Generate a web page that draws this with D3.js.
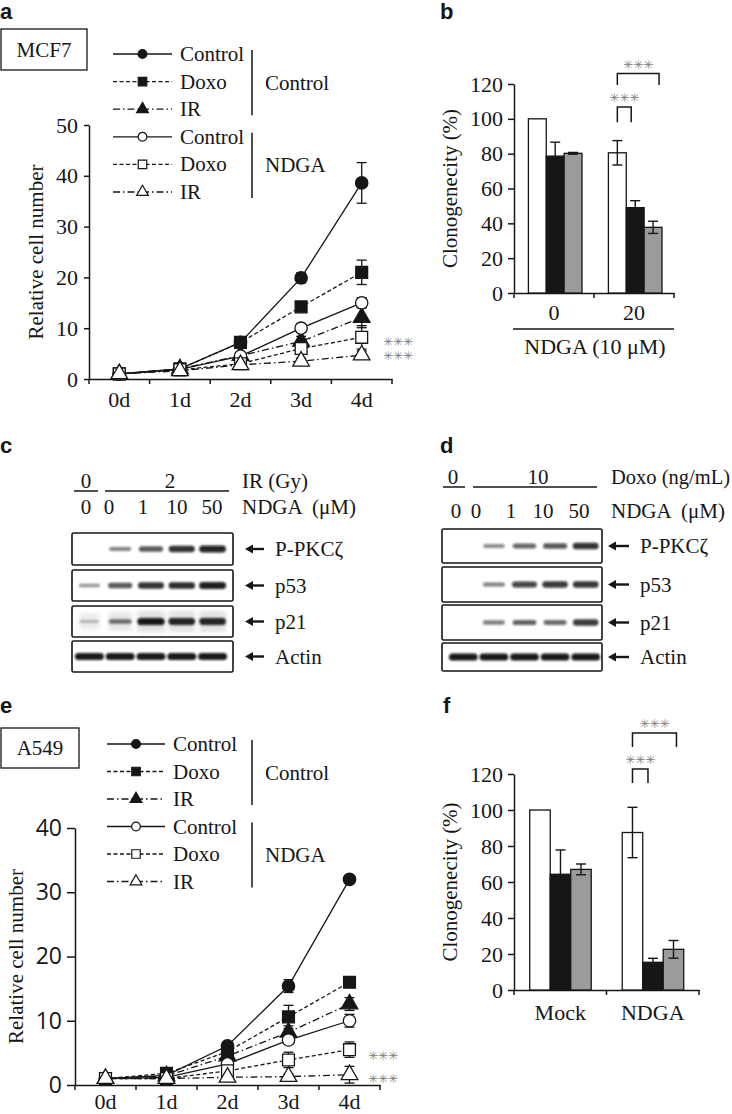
<!DOCTYPE html>
<html><head><meta charset="utf-8">
<script src="https://cdn.jsdelivr.net/npm/d3@7"></script>
<style>
body{margin:0;background:#fff;}
svg{display:block;}
</style></head><body>
<svg id="fig" width="732" height="1114"></svg>
<script>
// ---------------- data ----------------
const days = ["0d","1d","2d","3d","4d"];
const legendNames = ["Control","Doxo","IR","Control","Doxo","IR"];
const legendGroups = ["Control","NDGA"];

const mcf7Means = [
  [1, 2.0, 7.2, 19.9, 38.6],
  [1, 2.0, 7.2, 14.2, 21.0],
  [1, 2.0, 4.6, 7.4, 12.1],
  [1, 1.9, 4.5, 10.0, 15.0],
  [1, 1.8, 3.0, 6.0, 8.2],
  [1, 1.6, 2.8, 3.5, 4.7]
];
const mcf7Err = [
  [0.2, 0.3, 0.6, 1.0, 4.0],
  [0.2, 0.3, 0.5, 0.6, 2.4],
  [0.2, 0.3, 0.5, 1.0, 2.0],
  [0.2, 0.3, 0.5, 0.8, 1.0],
  [0.2, 0.3, 0.5, 0.7, 2.3],
  [0.2, 0.3, 0.4, 0.6, 0.8]
];
const mcf7Ticks = [0, 10, 20, 30, 40, 50];

const a549Means = [
  [1, 1.5, 6.1, 15.4, 32.0],
  [1, 1.8, 5.2, 10.6, 16.0],
  [1, 1.4, 4.5, 8.2, 12.6],
  [1, 1.2, 3.3, 7.0, 10.0],
  [1, 1.0, 2.2, 3.9, 5.5],
  [1, 1.0, 1.2, 1.3, 1.6]
];
const a549Err = [
  [0.2, 0.3, 0.5, 1.0, 0.6],
  [0.2, 0.3, 0.5, 1.8, 0.8],
  [0.2, 0.3, 0.5, 1.0, 1.0],
  [0.2, 0.3, 0.5, 0.6, 1.0],
  [0.2, 0.3, 0.4, 1.2, 1.2],
  [0.2, 0.2, 0.3, 0.4, 1.3]
];
const a549Ticks = [0, 10, 20, 30, 40];

const treatments = ["Control", "Doxo", "IR"];
const clonoTicks = [0, 20, 40, 60, 80, 100, 120];
const bGroups = ["0", "20"];
const bMeans = [[100, 78.6, 80.2], [80.5, 49.0, 37.7]];
const bErr   = [[0, 8.0, 0.5], [7.0, 4.0, 3.5]];
const fGroups = ["Mock", "NDGA"];
const fMeans = [[100, 64.3, 67.0], [87.5, 15.4, 22.6]];
const fErr   = [[0, 13.5, 3.0], [14.0, 2.2, 4.9]];

const blotProteins = ["P-PKCζ", "p53", "p21", "Actin"];
const blotCDose = ["0", "2"];
const blotDDose = ["0", "10"];
const ndgaLanes = ["0", "0", "1", "10", "50"];
const blotC = [
  [0, 0.40, 0.62, 0.82, 0.90],
  [0.30, 0.62, 0.82, 0.86, 0.92],
  [0.12, 0.48, 0.95, 0.88, 0.88],
  [1, 1, 1, 1, 1]
];
const blotD = [
  [0, 0.35, 0.55, 0.62, 0.82],
  [0, 0.40, 0.72, 0.78, 0.80],
  [0, 0.42, 0.58, 0.52, 0.78],
  [1, 1, 1, 1, 1]
];

// ---------------- styles ----------------
const INK = "#161616";
const SERIF = '"Liberation Serif","Times New Roman",serif';
const SANS = '"Liberation Sans",Arial,sans-serif';
const ROUND = '"Open Sans","Noto Sans",sans-serif';
const dashes = ["none", "4,2.5", "7,3,1.5,3"];
const symTypes = [d3.symbolCircle, d3.symbolSquare, d3.symbolTriangle];
const symSize = [120, 140, 120];
const legSymSize = [60, 72, 60];
const barFill = ["#ffffff", "#161616", "#9b9b9b"];
const STAR = "#808080";

const svg = d3.select("#fig");
const defs = svg.append("defs");
defs.append("filter").attr("id", "blur").attr("x", "-50%").attr("y", "-150%")
  .attr("width", "200%").attr("height", "400%")
  .append("feGaussianBlur").attr("stdDeviation", 1.3);
defs.append("filter").attr("id", "blur2").attr("x", "-50%").attr("y", "-150%")
  .attr("width", "200%").attr("height", "400%")
  .append("feGaussianBlur").attr("stdDeviation", 2.2);

function txt(g, s, x, y, opts = {}) {
  return g.append("text").attr("x", x).attr("y", y)
    .attr("font-family", opts.font || SERIF)
    .attr("font-size", opts.size || 21)
    .attr("font-weight", opts.weight || "normal")
    .attr("text-anchor", opts.anchor || "start")
    .attr("fill", opts.fill || INK)
    .style("white-space", "pre")
    .text(s);
}
// significance marks (eight-spoked asterisks), y = visual centre
function stars(g, x, yc, anchor) {
  txt(g, "✳✳✳", x, yc + 4, {font: '"DejaVu Sans",sans-serif', size: 12, fill: STAR, anchor: anchor || "start"});
}

// ---------------- panel letters ----------------
[["a", 0, 19], ["b", 440, 19], ["c", 0, 453], ["d", 440, 453], ["e", 0, 713], ["f", 443, 713]]
  .forEach(([t, x, y]) => txt(svg, t, x, y, {font: SANS, size: 22, weight: "bold"}));

// ---------------- growth panels ----------------
function growthPanel(cfg) {
  const g = svg.append("g");
  const x = d3.scaleBand().domain(days).range(cfg.xRange);
  const y = d3.scaleLinear().domain([0, cfg.yMax]).range(cfg.yRange);
  const cx = d => x(d) + x.bandwidth() / 2;

  // y axis
  const ya = g.append("g").attr("transform", `translate(${cfg.xRange[0]},0)`)
    .call(d3.axisLeft(y).tickValues(cfg.yTicks).tickSize(cfg.tickLen).tickSizeOuter(0).tickPadding(cfg.tickPad));
  ya.selectAll("text").attr("font-family", cfg.yFont).attr("font-size", cfg.yFontSize).attr("fill", INK);
  ya.selectAll("line,path").attr("stroke", INK).attr("stroke-width", 1.5);

  // x axis
  const xa = g.append("g").attr("transform", `translate(0,${cfg.yRange[0]})`)
    .call(d3.axisBottom(x).tickSize(0).tickSizeOuter(0));
  xa.selectAll("text").attr("font-family", SERIF).attr("font-size", 22).attr("fill", INK)
    .attr("y", cfg.xLabelY).attr("dy", 0);
  xa.select(".domain").attr("stroke", INK).attr("stroke-width", 1.5);
  const bounds = days.map(d => x(d)).concat([cfg.xRange[1]]);
  xa.selectAll(".btick").data(bounds).join("line").attr("class", "btick")
    .attr("x1", d => d).attr("x2", d => d).attr("y1", 0).attr("y2", 5)
    .attr("stroke", INK).attr("stroke-width", 1.5);

  // y label
  txt(g, "Relative cell number", 0, 0, {anchor: "middle"})
    .attr("transform", `translate(${cfg.yLabelX},${(cfg.yRange[0] + cfg.yRange[1]) / 2}) rotate(-90)`);

  // lines
  const line = d3.line().x((d, i) => cx(days[i])).y(d => y(d));
  cfg.means.forEach((m, s) => {
    g.append("path").attr("d", line(m)).attr("fill", "none")
      .attr("stroke", INK).attr("stroke-width", 1.3).attr("stroke-dasharray", dashes[s % 3]);
  });
  // error bars
  cfg.means.forEach((m, s) => {
    m.forEach((v, i) => {
      const e = cfg.errs[s][i];
      const xx = cx(days[i]);
      const eg = g.append("g").attr("stroke", INK).attr("stroke-width", 1.3);
      eg.append("line").attr("x1", xx).attr("x2", xx).attr("y1", y(v - e)).attr("y2", y(v + e));
      [v - e, v + e].forEach(t => eg.append("line").attr("x1", xx - 5).attr("x2", xx + 5).attr("y1", y(t)).attr("y2", y(t)));
    });
  });
  // markers
  cfg.means.forEach((m, s) => {
    m.forEach((v, i) => {
      g.append("path").attr("d", d3.symbol().type(symTypes[s % 3]).size(symSize[s % 3])())
        .attr("transform", `translate(${cx(days[i])},${y(v)})`)
        .attr("fill", s < 3 ? INK : "#fff").attr("stroke", INK).attr("stroke-width", 1.3);
    });
  });

  // cell line box
  const L = cfg.box;
  g.append("rect").attr("x", L.x).attr("y", L.y).attr("width", L.w).attr("height", L.h)
    .attr("fill", "#fff").attr("stroke", INK).attr("stroke-width", 1.3);
  txt(g, cfg.name, L.x + L.w / 2, L.y + L.h / 2 + 7, {anchor: "middle"});

  // legend
  const lg = cfg.legend;
  legendNames.forEach((nm, s) => {
    const yy = lg.y0 + s * lg.dy;
    g.append("line").attr("x1", lg.x0).attr("x2", lg.x1).attr("y1", yy).attr("y2", yy)
      .attr("stroke", INK).attr("stroke-width", 1.3).attr("stroke-dasharray", dashes[s % 3]);
    g.append("path").attr("d", d3.symbol().type(symTypes[s % 3]).size(legSymSize[s % 3])())
      .attr("transform", `translate(${(lg.x0 + lg.x1) / 2},${yy})`)
      .attr("fill", s < 3 ? INK : "#fff").attr("stroke", INK).attr("stroke-width", 1.2);
    txt(g, nm, lg.tx, yy + 7);
  });
  legendGroups.forEach((gn, k) => {
    const top = lg.y0 + k * 3 * lg.dy - 4, bot = lg.y0 + (k * 3 + 2) * lg.dy + 6;
    g.append("line").attr("x1", lg.barX).attr("x2", lg.barX).attr("y1", top).attr("y2", bot)
      .attr("stroke", INK).attr("stroke-width", 1.5);
    txt(g, gn, lg.gx, (top + bot) / 2 + 7);
  });

  // significance
  cfg.starY.forEach(yy => stars(g, cfg.starX, yy));
}

growthPanel({
  name: "MCF7", means: mcf7Means, errs: mcf7Err, yMax: 50, yTicks: mcf7Ticks,
  xRange: [89, 392], yRange: [379, 125], tickLen: 5, tickPad: 6,
  yFont: SERIF, yFontSize: 22, xLabelY: 28, yLabelX: 43,
  box: {x: 1, y: 29, w: 86, h: 41},
  legend: {x0: 113, x1: 172, tx: 180, y0: 54, dy: 27.6, barX: 252, gx: 265},
  starX: 383, starY: [342, 356]
});
growthPanel({
  name: "A549", means: a549Means, errs: a549Err, yMax: 40, yTicks: a549Ticks,
  xRange: [75, 380], yRange: [1085, 828], tickLen: 8, tickPad: 5,
  yFont: ROUND, yFontSize: 23, xLabelY: 24, yLabelX: 23,
  box: {x: 1, y: 728, w: 78, h: 40},
  legend: {x0: 107, x1: 165, tx: 173, y0: 744, dy: 27.5, barX: 252, gx: 265},
  starX: 368, starY: [1056, 1079]
});

// ---------------- bar panels ----------------
function barPanel(cfg) {
  const g = svg.append("g");
  const x0 = d3.scaleBand().domain(cfg.groups).range(cfg.xRange);
  const bw = x0.bandwidth();
  const x1 = d3.scaleBand().domain(treatments).range([bw * cfg.inner[0], bw * cfg.inner[1]]);
  const y = d3.scaleLinear().domain([0, 120]).range(cfg.yRange);

  const ya = g.append("g").attr("transform", `translate(${cfg.xRange[0]},0)`)
    .call(d3.axisLeft(y).tickValues(clonoTicks).tickSize(6).tickSizeOuter(0).tickPadding(5));
  ya.selectAll("text").attr("font-family", SERIF).attr("font-size", 22).attr("fill", INK);
  ya.selectAll("line,path").attr("stroke", INK).attr("stroke-width", 1.5);

  const xa = g.append("g").attr("transform", `translate(0,${cfg.yRange[0]})`)
    .call(d3.axisBottom(x0).tickSize(0).tickSizeOuter(0));
  xa.selectAll("text").attr("font-family", SERIF).attr("font-size", 22).attr("fill", INK)
    .attr("y", cfg.xLabelY).attr("dy", 0);
  xa.select(".domain").attr("stroke", INK).attr("stroke-width", 1.5);
  const bounds = cfg.groups.map(d => x0(d)).concat([cfg.xRange[1]]);
  xa.selectAll(".btick").data(bounds).join("line").attr("class", "btick")
    .attr("x1", d => d).attr("x2", d => d).attr("y1", 0).attr("y2", 5)
    .attr("stroke", INK).attr("stroke-width", 1.5);

  txt(g, "Clonogenecity (%)", 0, 0, {anchor: "middle"})
    .attr("transform", `translate(457,${(cfg.yRange[0] + cfg.yRange[1]) / 2}) rotate(-90)`);

  cfg.means.forEach((row, gi) => {
    const gx = x0(cfg.groups[gi]);
    row.forEach((v, ti) => {
      const bx = gx + x1(treatments[ti]);
      g.append("rect").attr("x", bx).attr("y", y(v)).attr("width", x1.bandwidth())
        .attr("height", y(0) - y(v)).attr("fill", barFill[ti]).attr("stroke", INK).attr("stroke-width", 1.3);
      const e = cfg.errs[gi][ti];
      if (e > 0) {
        const xx = bx + x1.bandwidth() / 2;
        const eg = g.append("g").attr("stroke", INK).attr("stroke-width", 1.4);
        eg.append("line").attr("x1", xx).attr("x2", xx).attr("y1", y(v - e)).attr("y2", y(v + e));
        [v - e, v + e].forEach(t => eg.append("line").attr("x1", xx - 5).attr("x2", xx + 5).attr("y1", y(t)).attr("y2", y(t)));
      }
    });
  });

  // brackets in second group
  const gx = x0(cfg.groups[1]);
  const c = t => gx + x1(treatments[t]) + x1.bandwidth() / 2;
  cfg.brackets.forEach(b => {
    const xa0 = c(0), xa1 = c(b.to) + b.shift;
    g.append("path").attr("d", `M${xa0},${y(b.low)}V${y(b.high)}H${xa1}V${y(b.low)}`)
      .attr("fill", "none").attr("stroke", INK).attr("stroke-width", 1.5);
    stars(g, (xa0 + xa1) / 2, y(b.high) - 9, "middle");
  });

  if (cfg.under) {
    g.append("line").attr("x1", cfg.xRange[0] - 1).attr("x2", cfg.xRange[1]).attr("y1", cfg.under.y).attr("y2", cfg.under.y)
      .attr("stroke", INK).attr("stroke-width", 1.5);
    txt(g, cfg.under.text, (cfg.xRange[0] + cfg.xRange[1]) / 2 + 1, cfg.under.y + 25, {anchor: "middle", size: 22});
  }
}

barPanel({
  groups: bGroups, means: bMeans, errs: bErr, xRange: [514, 674], yRange: [293, 84],
  inner: [0.18, 0.85], xLabelY: 27,
  brackets: [{to: 1, shift: -4, low: 98, high: 106.8}, {to: 2, shift: 6, low: 119.4, high: 126}],
  under: {y: 329, text: "NDGA (10 μM)"}
});
barPanel({
  groups: fGroups, means: fMeans, errs: fErr, xRange: [514, 699], yRange: [990, 774],
  inner: [0.17, 0.835], xLabelY: 30,
  brackets: [{to: 1, shift: -5, low: 115, high: 122.8}, {to: 2, shift: 3, low: 135, high: 142.8}],
  under: null
});

// ---------------- western blots ----------------
function blotPanel(cfg) {
  const g = svg.append("g");
  const lane = d3.scaleBand().domain(d3.range(ndgaLanes.length)).range(cfg.laneRange);
  const lc = i => lane(i) + lane.bandwidth() / 2;

  // header
  txt(g, cfg.dose[0], cfg.doseX[0], cfg.headY, {anchor: "middle"});
  txt(g, cfg.dose[1], cfg.doseX[1], cfg.headY, {anchor: "middle"});
  cfg.underlines.forEach(u => g.append("line").attr("x1", u[0]).attr("x2", u[1])
    .attr("y1", cfg.headY + 3).attr("y2", cfg.headY + 3).attr("stroke", INK).attr("stroke-width", 1.5));
  txt(g, cfg.doseLabel, cfg.labelX, cfg.headY, {size: cfg.doseLabelSize});
  ndgaLanes.forEach((l, i) => txt(g, l, cfg.laneLabelX[i], cfg.row2Y, {anchor: "middle"}));
  txt(g, "NDGA  (μM)", cfg.labelX, cfg.row2Y);

  blotProteins.forEach((p, r) => {
    const by = cfg.boxY[r], bh = cfg.boxH[r], mid = by + bh / 2;
    const isActin = p === "Actin";
    cfg.data[r].forEach((v, i) => {
      if (v <= 0) return;
      const w = isActin ? lane.bandwidth() * 0.94 : lane.bandwidth() * (0.6 + 0.3 * v);
      const h = isActin ? 7 : 2 + 5.5 * v;
      g.append("rect").attr("x", lc(i) - w / 2).attr("y", mid - h / 2).attr("width", w).attr("height", h)
        .attr("rx", h / 2).attr("fill", "#0c0c0c").attr("opacity", isActin ? 0.95 : 0.2 + 0.78 * v)
        .attr("filter", "url(#blur)");
      if (cfg.haze && r === 2) {
        g.append("rect").attr("x", lc(i) - w / 2).attr("y", mid - h / 2 - 7).attr("width", w).attr("height", 14 + h)
          .attr("fill", "#000").attr("opacity", 0.07 + 0.05 * v).attr("filter", "url(#blur2)");
      }
    });
    g.append("rect").attr("x", cfg.boxX[0]).attr("y", by).attr("width", cfg.boxX[1] - cfg.boxX[0]).attr("height", bh)
      .attr("rx", 1.5).attr("fill", "none").attr("stroke", INK).attr("stroke-width", 1.6);
    // arrow
    const ax0 = cfg.arrowX[0], ax1 = cfg.arrowX[1];
    g.append("line").attr("x1", ax0 + 6).attr("x2", ax1).attr("y1", mid).attr("y2", mid)
      .attr("stroke", INK).attr("stroke-width", 2.4);
    g.append("path").attr("d", `M${ax0},${mid}L${ax0 + 8},${mid - 4.5}L${ax0 + 8},${mid + 4.5}Z`).attr("fill", INK);
    txt(g, p, cfg.arrowX[1] + 11, mid + 7);
  });
}

blotPanel({
  dose: blotCDose, doseX: [86, 170], doseLabel: "IR (Gy)", doseLabelSize: 21, headY: 488, labelX: 242,
  underlines: [[74, 98], [105, 229]], row2Y: 514, laneLabelX: [86, 109, 143, 177, 212],
  laneRange: [74, 228], boxX: [72, 233], boxY: [533, 570, 606, 641], boxH: [32, 31, 31, 31],
  arrowX: [245, 264], data: blotC, haze: true
});
blotPanel({
  dose: blotDDose, doseX: [453, 538], doseLabel: "Doxo (ng/mL)", doseLabelSize: 20.5, headY: 484, labelX: 611,
  underlines: [[443, 465], [473, 597]], row2Y: 518, laneLabelX: [456, 476, 511, 543, 579],
  laneRange: [448, 601], boxX: [442, 602], boxY: [529, 567, 605, 643], boxH: [34, 35, 35, 28],
  arrowX: [608, 629], data: blotD, haze: false
});
</script>
</body></html>
